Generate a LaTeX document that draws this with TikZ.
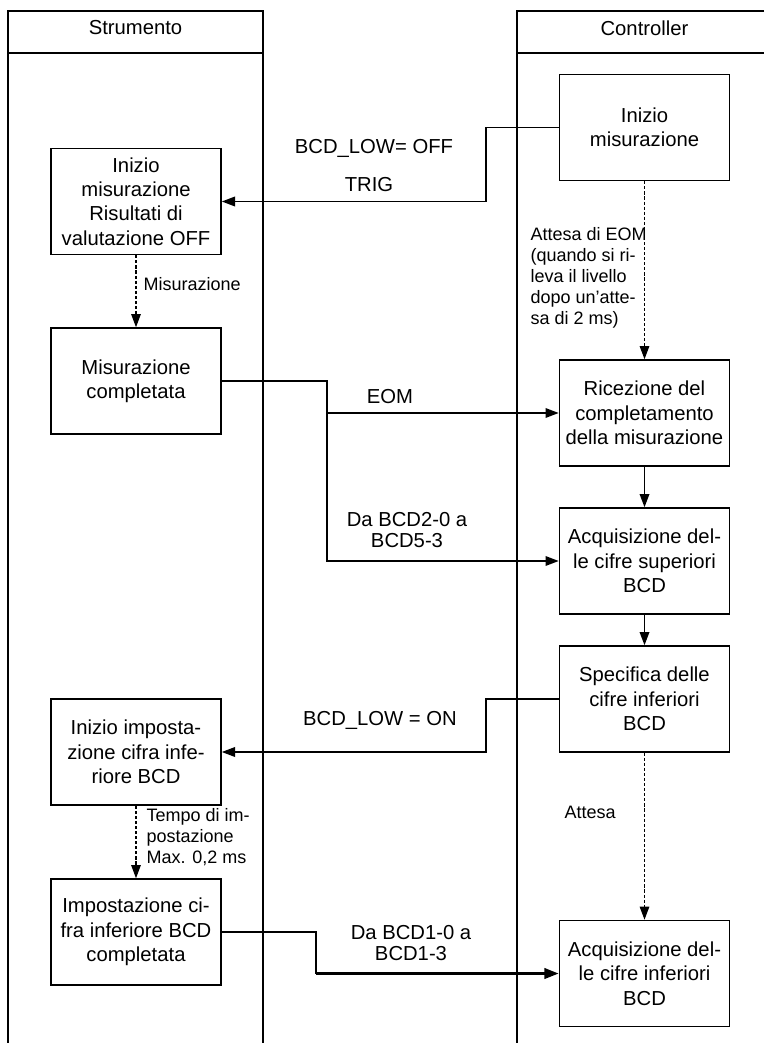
\documentclass[tikz,border=0pt]{standalone}
\usepackage{fontspec}
\setmainfont{Liberation Sans}
\usetikzlibrary{arrows.meta}
\tikzset{
  stepnode/.style={rectangle,draw,line width=1.1pt,fill=white,
    minimum width=4.25cm,minimum height=2.65cm,inner sep=1pt,align=center,
    font=\fontsize{14.4}{17.3}\selectfont},
  lanetitle/.style={inner sep=1pt,font=\fontsize{14.4}{17.3}\selectfont},
  signallabel/.style={inner sep=1pt,align=center,
    font=\fontsize{14.4}{15.2}\selectfont},
  notelabel/.style={inner sep=1pt,anchor=west,align=left,
    font=\fontsize{12.8}{14.9}\selectfont},
  laneline/.style={line width=1.1pt},
  signaledge/.style={line width=1.1pt,-{Triangle[length=0.33cm,width=0.24cm]}},
  boldedge/.style={line width=2pt,-{Triangle[length=0.36cm,width=0.26cm]}},
  flowedge/.style={line width=1.1pt,-{Triangle[length=0.33cm,width=0.24cm]}},
  waitedge/.style={line width=0.8pt,dash pattern=on 2.2pt off 1.4pt,
    -{Triangle[length=0.33cm,width=0.24cm]}}
}
\begin{document}
\begin{tikzpicture}[x=0.025cm,y=-0.025cm]
  \useasboundingbox (0,0) rectangle (764,1043);

  % swimlanes
  \draw[laneline] (8,1043) -- (8,11) -- (263,11) -- (263,1043);
  \draw[laneline] (8,53) -- (263,53);
  \draw[laneline] (764,11) -- (517,11) -- (517,1043);
  \draw[laneline] (517,53) -- (764,53);
  \node[lanetitle] (strumento) at (135.5,28) {Strumento};
  \node[lanetitle] (controller) at (644.5,28) {Controller};

  % Strumento
  \node[stepnode] (s1) at (136,201.5) {Inizio\\misurazione\\Risultati di\\valutazione OFF};
  \node[stepnode] (s2) at (136,381) {Misurazione\\completata};
  \node[stepnode] (s3) at (136,752) {Inizio imposta-\\zione cifra infe-\\riore BCD};
  \node[stepnode] (s4) at (136,932) {Impostazione ci-\\fra inferiore BCD\\completata};

  % Controller
  \node[stepnode] (c1) at (644.5,127.5) {Inizio\\misurazione};
  \node[stepnode] (c2) at (644.5,413) {Ricezione del\\completamento\\della misurazione};
  \node[stepnode] (c3) at (644.5,561) {Acquisizione del-\\le cifre superiori\\BCD};
  \node[stepnode] (c4) at (644.5,699) {Specifica delle\\cifre inferiori\\BCD};
  \node[stepnode] (c5) at (644.5,973.5) {Acquisizione del-\\le cifre inferiori\\BCD};

  \coordinate (trigbend) at (486,127.5);
  \coordinate (eombend) at (327,381);
  \coordinate (lowbend) at (486,699);
  \coordinate (digitbend) at (316,932);
  \coordinate (digitturn) at (316,973.5);

  \draw[waitedge] (s1) -- (s2);
  \draw[waitedge] (s3) -- (s4);
  \draw[waitedge] (c1) -- (c2);
  \draw[flowedge] (c2) -- (c3);
  \draw[flowedge] (c3) -- (c4);
  \draw[waitedge] (c4) -- (c5);

  \draw[signaledge] (c1.west) -- (trigbend) |- (s1.east);
  \draw[signaledge] (s2.east) -- (eombend) |- (c2.west);
  \draw[signaledge] (eombend) |- (c3.west);
  \draw[signaledge] (c4.west) -- (lowbend) |- (s3.east);
  \draw[laneline] (s4.east) -- (digitbend) -- (digitturn);
  \draw[boldedge] (digitturn) -- (c5.west);

  \node[signallabel] (offlabel) at (374,148) {BCD\_LOW= OFF};
  \node[signallabel] (triglabel) at (369,185) {TRIG};
  \node[signallabel] (eomlabel) at (390,397) {EOM};
  \node[signallabel] (uplabel) at (407,530) {Da BCD2-0 a\\BCD5-3};
  \node[signallabel] (onlabel) at (380,720) {BCD\_LOW = ON};
  \node[signallabel] (lowlabel) at (411,943) {Da BCD1-0 a\\BCD1-3};

  \node[notelabel] (measnote) at (142,284) {Misurazione};
  \node[notelabel] (eomnote) at (529,277.5) {Attesa di EOM\\(quando si ri-\\leva il livello\\dopo un’atte-\\sa di 2 ms)};
  \node[notelabel] (setnote) at (145,837.5) {Tempo di im-\\postazione\\Max. 0,2 ms};
  \node[notelabel] (waitnote) at (563,812) {Attesa};
\end{tikzpicture}
\end{document}
